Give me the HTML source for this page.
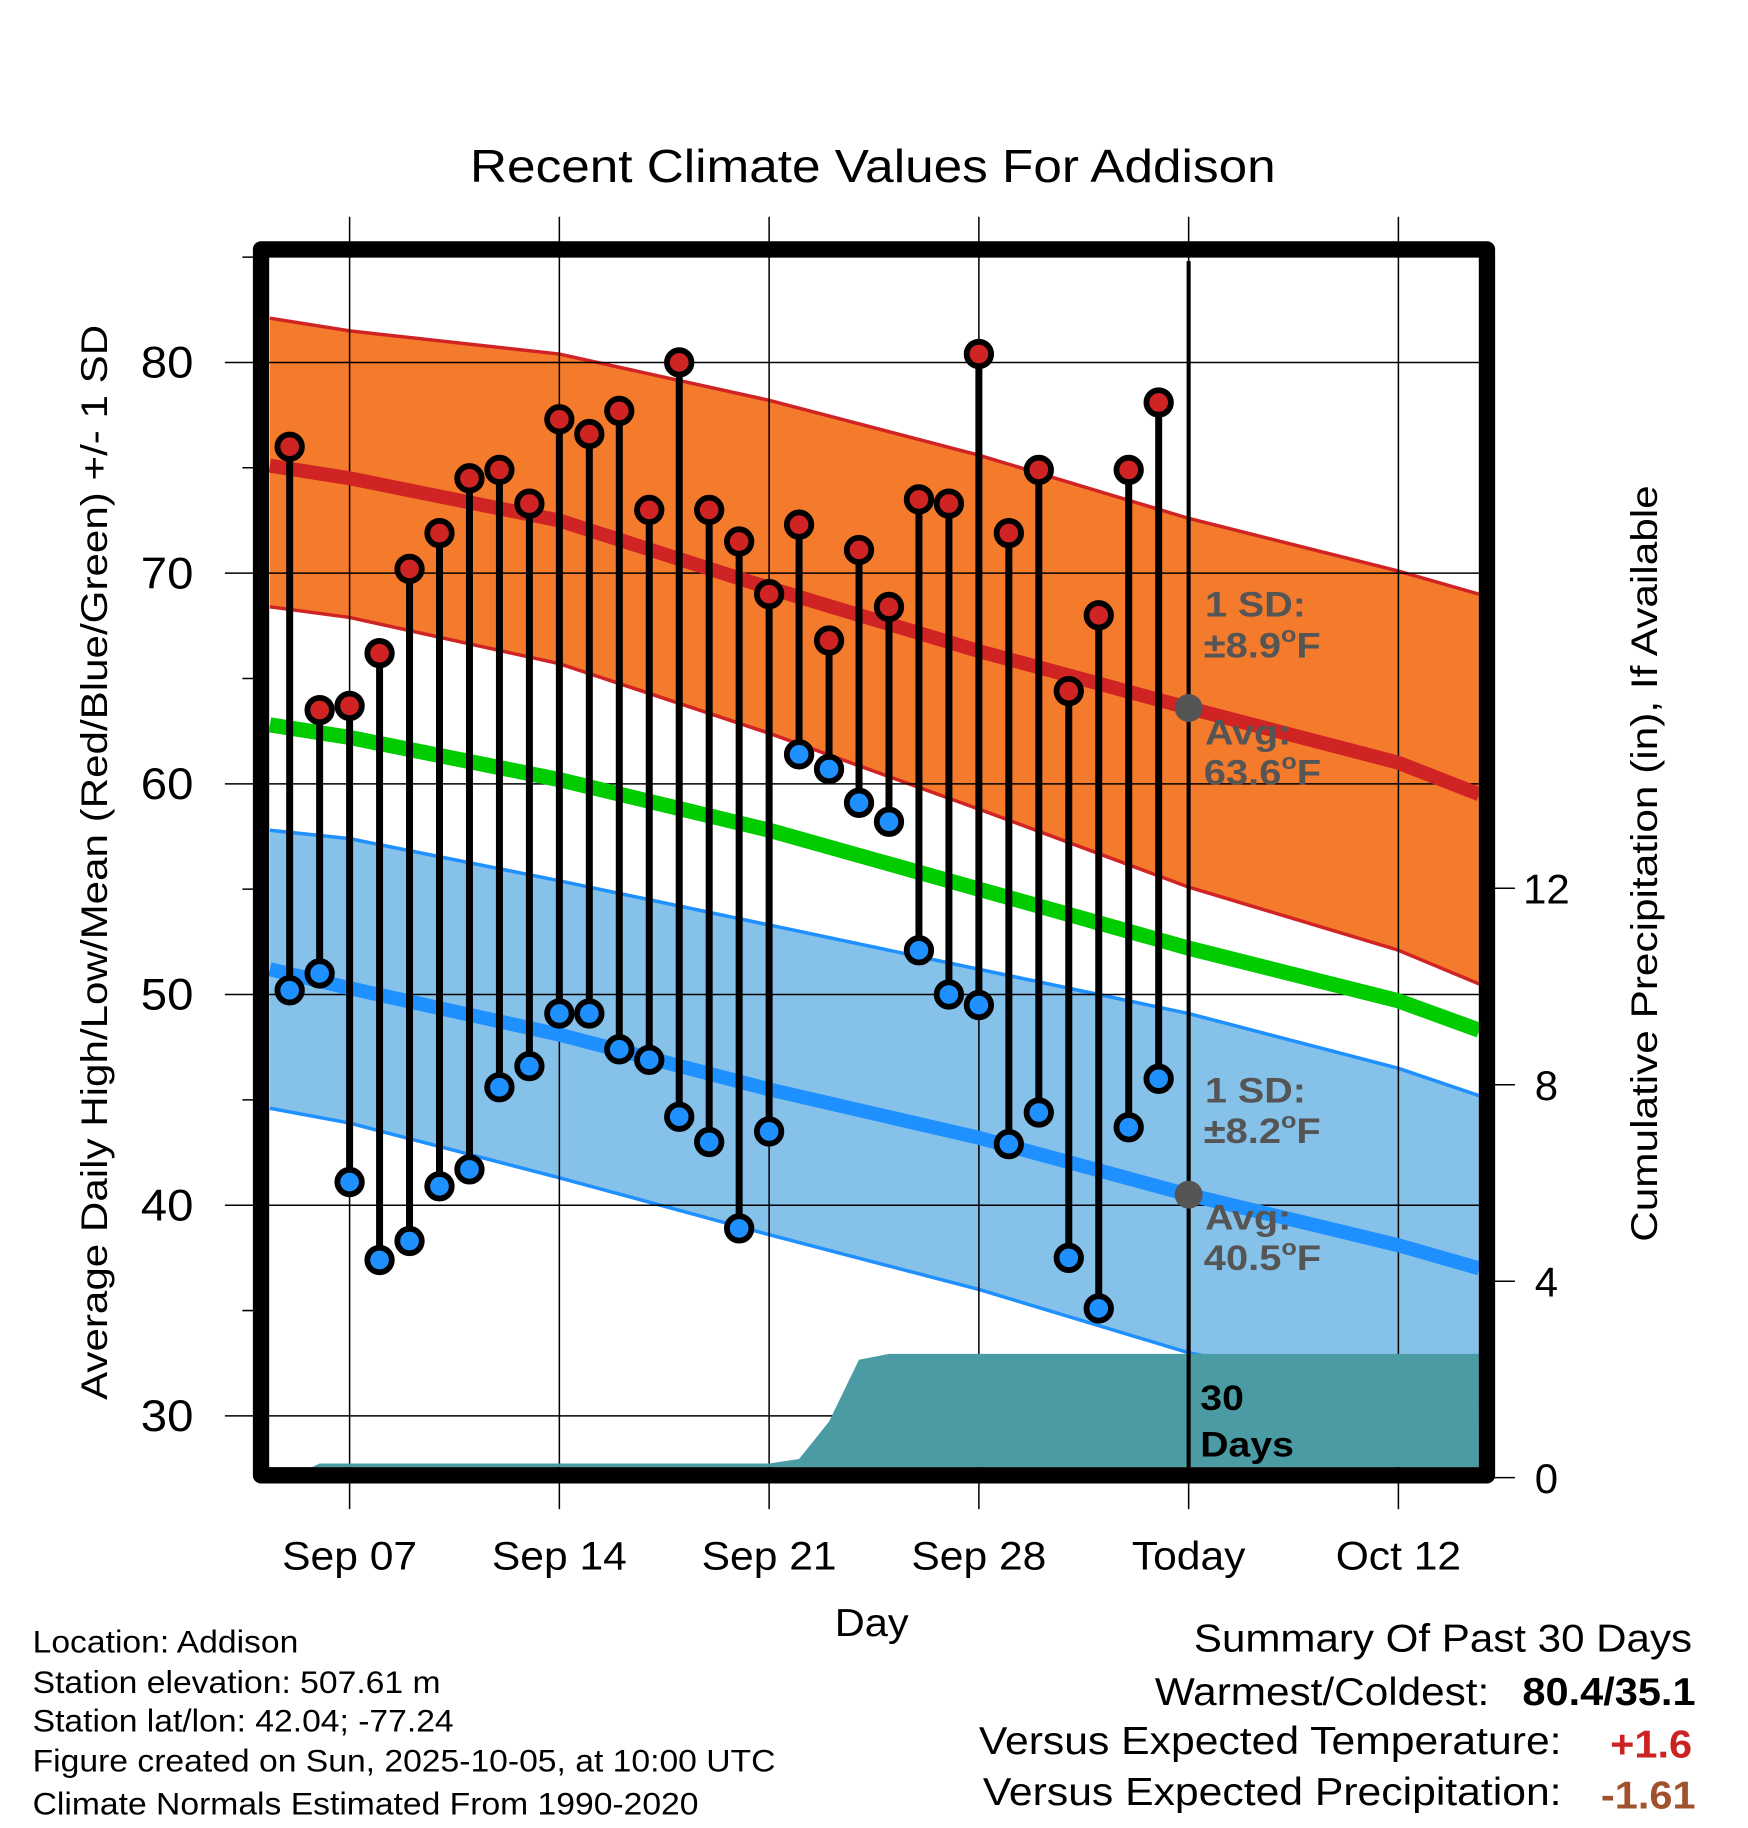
<!DOCTYPE html>
<html><head><meta charset="utf-8"><style>
html,body{margin:0;padding:0;background:#fff}
svg{display:block;font-family:"Liberation Sans",Arial,sans-serif}
</style></head><body>
<svg id="chart" width="1748" height="1828" viewBox="0 0 1500 1568.6" xmlns="http://www.w3.org/2000/svg">
<g id="g-bands"></g>
<g id="g-grid"></g>
<g id="g-lines"></g>
<g id="g-precip"></g>
<g id="g-stems"></g>
<g id="g-axes"></g>
<text data-sx="1.10" x="749" y="156" font-size="40" text-anchor="middle">Recent Climate Values For Addison</text>
<text data-sx="1.08" x="748" y="1404" font-size="33" text-anchor="middle">Day</text>
<text data-sx="1.13" transform="translate(92,740) rotate(-90)" font-size="32" text-anchor="middle">Average Daily High/Low/Mean (Red/Blue/Green) +/- 1 SD</text>
<text data-sx="1.135" transform="translate(1422,741) rotate(-90)" font-size="32" text-anchor="middle">Cumulative Precipitation (in), If Available</text>
<g font-weight="bold" font-size="30" fill="#555">
<text data-sx="1.13" x="1034" y="529">1 SD:</text>
<text data-sx="1.14" x="1033" y="564">±8.9<tspan font-size="19" dy="-13">o</tspan><tspan dy="13">F</tspan></text>
<text data-sx="1.13" x="1034" y="639">Avg:</text>
<text data-sx="1.14" x="1033" y="673">63.6<tspan font-size="19" dy="-13">o</tspan><tspan dy="13">F</tspan></text>
<text data-sx="1.13" x="1034" y="946">1 SD:</text>
<text data-sx="1.14" x="1033" y="981">±8.2<tspan font-size="19" dy="-13">o</tspan><tspan dy="13">F</tspan></text>
<text data-sx="1.13" x="1034" y="1055">Avg:</text>
<text data-sx="1.14" x="1033" y="1090">40.5<tspan font-size="19" dy="-13">o</tspan><tspan dy="13">F</tspan></text>
<text data-sx="1.12" x="1030" y="1210" fill="#000">30</text>
<text data-sx="1.12" x="1030" y="1250" fill="#000">Days</text>
</g>
<g font-size="27">
<text data-sx="1.07" x="28" y="1418">Location: Addison</text>
<text data-sx="1.07" x="28" y="1453">Station elevation: 507.61 m</text>
<text data-sx="1.07" x="28" y="1486">Station lat/lon: 42.04; -77.24</text>
<text data-sx="1.07" x="28" y="1520">Figure created on Sun, 2025-10-05, at 10:00 UTC</text>
<text data-sx="1.07" x="28" y="1557">Climate Normals Estimated From 1990-2020</text>
</g>
<g font-size="33">
<text data-sx="1.095" x="1452" y="1417" text-anchor="end">Summary Of Past 30 Days</text>
<text data-sx="1.10" x="1278" y="1463" text-anchor="end">Warmest/Coldest:</text>
<text data-sx="1.08" x="1455" y="1463" text-anchor="end" font-weight="bold">80.4/35.1</text>
<text data-sx="1.11" x="1340" y="1505" text-anchor="end">Versus Expected Temperature:</text>
<text data-sx="1.08" x="1452" y="1508" text-anchor="end" font-weight="bold" fill="#cc2222">+1.6</text>
<text data-sx="1.11" x="1340" y="1549" text-anchor="end">Versus Expected Precipitation:</text>
<text data-sx="1.08" x="1455" y="1552" text-anchor="end" font-weight="bold" fill="#a0522d">-1.61</text>
</g>
</svg>
<script>
// days relative to Sep 07
const highs = [76.0,63.5,63.7,66.2,70.2,71.9,74.5,74.9,73.3,77.3,76.6,77.7,73.0,80.0,73.0,71.5,69.0,72.3,66.8,71.1,68.4,73.5,73.3,80.4,71.9,74.9,64.4,68.0,74.9,78.1];
const lows = [50.2,51.0,41.1,37.4,38.3,40.9,41.7,45.6,46.6,49.1,49.1,47.4,46.9,44.2,43.0,38.9,43.5,61.4,60.7,59.1,58.2,52.1,50.0,49.5,42.9,44.4,37.5,35.1,43.7,46.0];
const precip = [0,0.29,0.29,0.29,0.29,0.29,0.29,0.29,0.29,0.29,0.29,0.29,0.29,0.29,0.29,0.29,0.29,0.38,1.14,2.4,2.52,2.52,2.52,2.52,2.52,2.52,2.52,2.52,2.52,2.52];
const normDays = [-2.66,0,7,14,21,28,35,37.7];
const highAvg = [75.1,74.5,72.5,69.3,66.3,63.6,61.0,59.5];
const highUp = [82.1,81.5,80.4,78.2,75.6,72.6,70.1,69.0];
const highLo = [68.4,67.9,65.7,62.4,58.8,55.1,52.1,50.5];
const lowAvg = [51.2,50.3,48.1,45.5,43.2,40.5,38.1,37.0];
const lowUp = [57.8,57.4,55.4,53.3,51.2,49.1,46.5,45.2];
const lowLo = [44.6,43.9,41.3,38.6,36.0,33.0,31.0,30.4];
const meanT = [62.8,62.2,60.2,57.8,55.0,52.2,49.7,48.3];
const xTicks = ["Sep 07","Sep 14","Sep 21","Sep 28","Today","Oct 12"];
const yTicks = [30,40,50,60,70,80];
const y2Ticks = [0,4,8,12];
const firstDay = -2; const todayDay = 28;

const NS="http://www.w3.org/2000/svg";
const L=231,R=1269,T=221,B=1259;
const X=d=>300+d*25.7143;
const Y=v=>311+(80-v)*18.08;
const Y2=p=>1268-p*42.15;
function mk(tag,attrs,parent){const e=document.createElementNS(NS,tag);for(const k in attrs)e.setAttribute(k,attrs[k]);parent.appendChild(e);return e;}
const svg=document.getElementById('chart');
const defs=mk('defs',{},svg);
const cp=mk('clipPath',{id:'clip'},defs);mk('rect',{x:L,y:T,width:R-L,height:B-T},cp);
const gb=document.getElementById('g-bands'),gg=document.getElementById('g-grid'),gl=document.getElementById('g-lines'),gp=document.getElementById('g-precip'),gs=document.getElementById('g-stems'),ga=document.getElementById('g-axes');
[gb,gl,gp].forEach(g=>g.setAttribute('clip-path','url(#clip)'));
function pts(arr){return normDays.map((d,i)=>X(d).toFixed(1)+','+Y(arr[i]).toFixed(1));}
function band(up,lo,fill,edge,name){
  const p=mk('polygon',{points:pts(up).concat(pts(lo).reverse()).join(' '),fill:fill},gb);
  
  [up,lo].forEach(a=>{const e=mk('polyline',{points:pts(a).join(' '),fill:'none',stroke:edge,'stroke-width':3},gb);
  });
}
band(highUp,highLo,'#f47a2c','#d02424','high-sd-band');
band(lowUp,lowLo,'#85c1e9','#1e90ff','low-sd-band');
xTicks.forEach((t,i)=>{const x=X(i*7);
  const l=mk('line',{x1:x,x2:x,y1:186,y2:1295,stroke:'#000','stroke-width':1.3},gg);
  
  const tx=mk('text',{x:x,y:1347,'font-size':34,'text-anchor':'middle','data-sx':'1.075'},ga);tx.textContent=t;
  });
yTicks.forEach(v=>{const y=Y(v);
  const l=mk('line',{x1:193,x2:R,y1:y,y2:y,stroke:'#000','stroke-width':1.3},gg);
  
  const tx=mk('text',{x:166,y:y+13,'font-size':38,'text-anchor':'end','data-sx':'1.07'},ga);tx.textContent=v;
  });
[35,45,55,65,75,85].forEach(v=>{const m=mk('line',{x1:208,x2:224,y1:Y(v),y2:Y(v),stroke:'#000','stroke-width':1.3},ga);
  });
y2Ticks.forEach(p=>{const y=Y2(p);
  const l=mk('line',{x1:1276,x2:1300,y1:y,y2:y,stroke:'#000','stroke-width':1.3},ga);
  
  const tx=mk('text',{x:1327,y:y+13,'font-size':36,'text-anchor':'middle'},ga);tx.textContent=p;
  });
[[highAvg,'#d02424',12,'high-normal-line'],[lowAvg,'#1e90ff',12,'low-normal-line'],[meanT,'#00cc00',13,'mean-normal-line']].forEach(a=>{
  const e=mk('polyline',{points:pts(a[0]).join(' '),fill:'none',stroke:a[1],'stroke-width':a[2]},gl);
  });
let pp=[X(firstDay-1)+','+B, X(firstDay-1)+','+Y2(0)];
precip.forEach((p,i)=>pp.push(X(firstDay+i).toFixed(1)+','+Y2(p).toFixed(1)));
const lastP=precip[precip.length-1];
pp.push(X(40)+','+Y2(lastP));pp.push(X(40)+','+B);
const pa=mk('polygon',{points:pp.join(' '),fill:'#4a9ba3'},gp);

const tl=mk('line',{x1:X(todayDay),x2:X(todayDay),y1:224,y2:B,stroke:'#000','stroke-width':3.5},gs);

highs.forEach((h,i)=>{const x=X(firstDay+i);
  const s=mk('line',{x1:x,x2:x,y1:Y(h),y2:Y(lows[i]),stroke:'#000','stroke-width':6},gs);
  
  [[h,'#d02424','high-point'],[lows[i],'#1e90ff','low-point']].forEach(q=>{
    const c=mk('circle',{cx:x,cy:Y(q[0]),r:10.5,fill:q[1],stroke:'#000','stroke-width':5},gs);
    });
});
[[highAvg,'today-high-normal'],[lowAvg,'today-low-normal']].forEach(a=>{
  const c=mk('circle',{cx:X(todayDay),cy:Y(a[0][5]),r:12,fill:'#555'},gs);
  });
const fr=mk('rect',{x:224,y:214,width:1052,height:1052,fill:'none',stroke:'#000','stroke-width':14,'stroke-linejoin':'round'},ga);

// widen text to match reference font metrics
document.querySelectorAll('text[data-sx]').forEach(t=>{
  const f=parseFloat(t.getAttribute('data-sx'));
  const w=t.getComputedTextLength();
  if(w>0){t.setAttribute('textLength',(w*f).toFixed(1));t.setAttribute('lengthAdjust','spacingAndGlyphs');}
});
</script>
</body></html>
